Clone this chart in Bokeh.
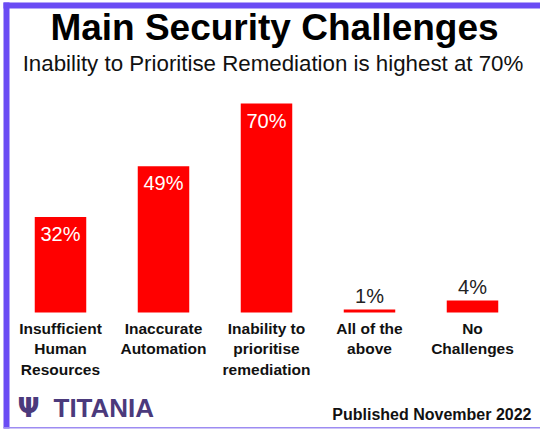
from bokeh.plotting import figure
from bokeh.models import ColumnDataSource, Range1d, Label, BoxAnnotation
from bokeh.core.properties import value
from bokeh.embed import file_html
from bokeh.resources import INLINE

categories = ["Insufficient\nHuman\nResources", "Inaccurate\nAutomation",
              "Inability to\nprioritise\nremediation", "All of the\nabove", "No\nChallenges"]
values = [32, 49, 70, 1, 4]
value_labels = ["32%", "49%", "70%", "1%", "4%"]

title_text = "Main Security Challenges"
subtitle_text = "Inability to Prioritise Remediation is highest at 70%"
brand_text = "TITANIA"
published_text = "Published November 2022"

W, H = 540, 430
FONT = "Liberation Sans"
PURPLE = "#6a4cf4"
BRAND = "#4b3a7c"

xs = list(range(len(categories)))
inside = [v >= 10 for v in values]
src = ColumnDataSource(dict(
    x=xs, top=values, cat=categories, lab=value_labels,
    lab_color=["white" if i else "#222222" for i in inside],
    lab_off=[17 if i else -14 for i in inside],
))

p = figure(width=W, height=H, output_backend="svg", toolbar_location=None,
           x_range=Range1d(-0.5825, 4.6602), y_range=Range1d(-39.53, 104.52),
           min_border=0, background_fill_color="white", border_fill_color="white")
p.axis.visible = False
p.grid.visible = False
p.outline_line_color = None

p.vbar(x="x", top="top", bottom=0, width=0.5, source=src,
       fill_color="#ff0000", line_color=None)

p.text(x="x", y="top", text="lab", source=src, text_color="lab_color",
       y_offset="lab_off", text_align="center", text_baseline="alphabetic",
       text_font=value(FONT), text_font_size="20px")

p.text(x="x", y=0, text="cat", source=src, text_color="#111111",
       y_offset=7, text_align="center", text_baseline="top",
       text_font=value(FONT), text_font_style="bold", text_font_size="15.5px",
       text_line_height=1.22)

p.add_layout(Label(x=274, y=403.5, x_units="screen", y_units="screen", text=title_text,
                   text_align="center", text_baseline="alphabetic", text_font=FONT,
                   text_font_style="bold", text_font_size="37px", text_color="#000000"))
p.add_layout(Label(x=272.5, y=367, x_units="screen", y_units="screen", text=subtitle_text,
                   text_align="center", text_baseline="alphabetic", text_font=FONT,
                   text_font_size="22.3px", text_color="#111111"))
p.add_layout(Label(x=28, y=23, x_units="screen", y_units="screen", text="\u03a8",
                   text_align="center", text_baseline="alphabetic", text_font="DejaVu Sans",
                   text_font_style="bold", text_font_size="26px", text_color=BRAND))
p.add_layout(Label(x=53, y=23, x_units="screen", y_units="screen", text=brand_text,
                   text_align="left", text_baseline="alphabetic", text_font=FONT,
                   text_font_style="bold", text_font_size="26px", text_color=BRAND))
p.add_layout(Label(x=531, y=16, x_units="screen", y_units="screen", text=published_text,
                   text_align="right", text_baseline="alphabetic", text_font=FONT,
                   text_font_style="bold", text_font_size="16px", text_color="#111111"))

p.add_layout(BoxAnnotation(left=3, right=9, left_units="screen", right_units="screen",
                           bottom=2, top=428, bottom_units="screen", top_units="screen",
                           fill_color=PURPLE, fill_alpha=1, line_color=None))
p.add_layout(BoxAnnotation(left=3, left_units="screen", bottom=422, top=428,
                           bottom_units="screen", top_units="screen",
                           fill_color=PURPLE, fill_alpha=1, line_color=None))
p.add_layout(BoxAnnotation(left=3, left_units="screen", bottom=2, top=3.5,
                           bottom_units="screen", top_units="screen",
                           fill_color="#9d8cf2", fill_alpha=1, line_color=None))

open("out.html", "w").write(file_html(p, INLINE))
